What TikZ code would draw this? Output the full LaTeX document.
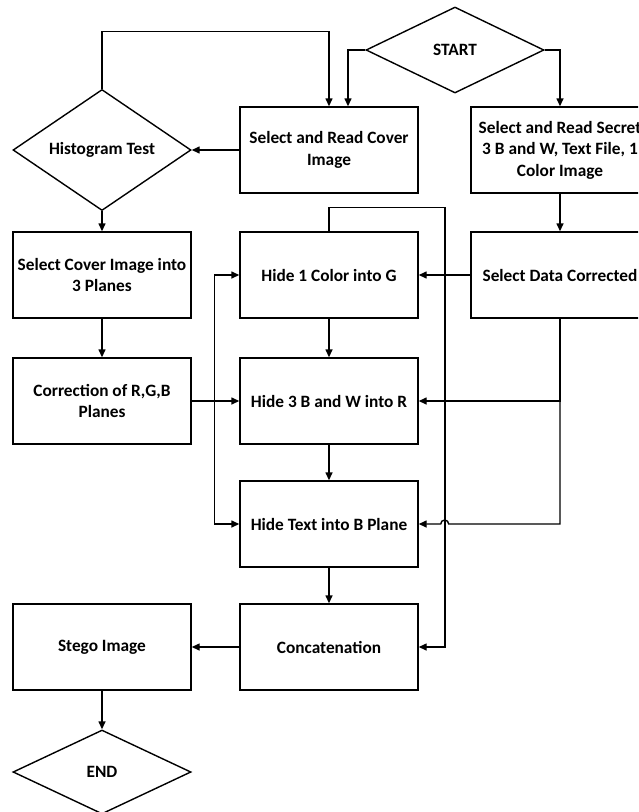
\documentclass[tikz,border=0pt]{standalone}
\usepackage{fontspec}
\setmainfont{Carlito}
\usetikzlibrary{positioning, arrows.meta, shapes.geometric, calc}

\begin{document}
\begin{tikzpicture}[
    x=1pt, y=-1pt,
    box/.style={rectangle, draw, line width=1.4pt, minimum width=178pt, minimum height=86pt, align=center, font=\bfseries\fontsize{17.3}{21.5}\selectfont},
    decision/.style={diamond, draw, line width=1.4pt, minimum width=178pt, minimum height=86pt, inner sep=0pt, font=\bfseries\fontsize{17.3}{21.5}\selectfont},
    arrow/.style={-{Triangle[length=8pt, width=7pt]}, line width=1.4pt}
]
\clip (0,0) rectangle (638,812);

% input side
\node[decision] (start) at (455, 50) {START};
\node[box] (cover) at (329, 150) {Select and Read Cover\\Image};
\node[decision] (hist) at (102, 150) {Histogram Test};
\node[box] (secret) at (560, 150) {Select and Read Secret\\3 B and W, Text File, 1\\Color Image};

% planes
\node[box] (selcover) at (102, 275) {Select Cover Image into\\3 Planes};
\node[box] (correct) at (102, 401) {Correction of R,G,B\\Planes};
\node[box] (seldata) at (560, 275) {Select Data Corrected};

% hiding steps
\node[box] (hideG) at (329, 275) {Hide 1 Color into G};
\node[box] (hideR) at (329, 401) {Hide 3 B and W into R};
\node[box] (hideB) at (329, 524) {Hide Text into B Plane};

% output
\node[box] (concat) at (329, 647) {Concatenation};
\node[box] (stego) at (102, 647) {Stego Image};
\node[decision, minimum height=84pt] (stop) at (102, 772) {END};

\draw[arrow] (start.west) -| ([xshift=19pt]cover.north);
\draw[arrow] (start.east) -| (secret.north);
\draw[arrow] (hist.north) -- ++(0,-57) -| (cover.north);
\draw[arrow] (cover.west) -- (hist.east);
\draw[arrow] (hist.south) -- (selcover.north);
\draw[arrow] (selcover.south) -- (correct.north);
\draw[arrow] (secret.south) -- (seldata.north);
\draw[arrow] (seldata.west) -- (hideG.east);
\draw[arrow] (hideG.south) -- (hideR.north);
\draw[arrow] (hideR.south) -- (hideB.north);
\draw[arrow] (hideB.south) -- (concat.north);
\draw[arrow] (concat.west) -- (stego.east);
\draw[arrow] (stego.south) -- (stop.north);

% corrected planes feed every hiding step
\draw[arrow] (correct.east) -- (hideR.west);
\coordinate (split) at ($(correct.east)+(23,0)$);
\draw[arrow] (split) |- (hideG.west);
\draw[arrow] (split) |- (hideB.west);

% secret data to R and B, with a hop over the feedback line
\draw[arrow] (seldata.south) |- (hideR.east);
\draw[arrow] (seldata.south) |- ($(hideB.east)+(30,0)$) arc[start angle=0, end angle=-180, radius=4] -- (hideB.east);

% G plane goes straight on to concatenation
\draw[arrow] (hideG.north) -- ++(0,-24) -- ++(116,0) |- (concat.east);
\end{tikzpicture}
\end{document}
